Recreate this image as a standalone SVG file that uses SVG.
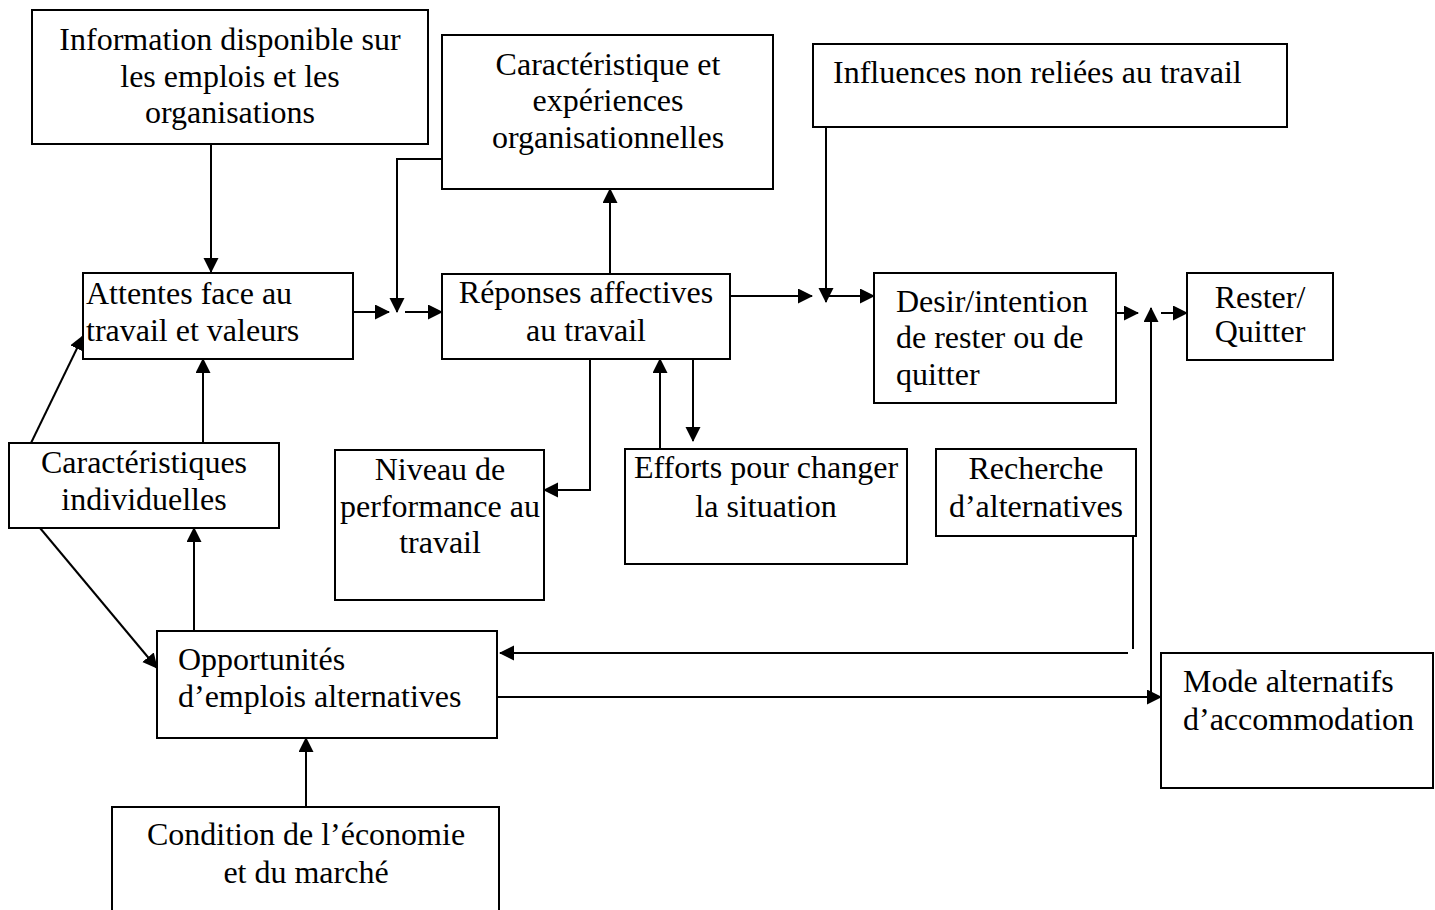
<svg xmlns="http://www.w3.org/2000/svg" width="1435" height="910" viewBox="0 0 1435 910">
<style>
.box{fill:#fff;stroke:#000;stroke-width:2}
.t{font-family:"Liberation Serif","Times New Roman",serif;font-size:32px;fill:#000}
.c{text-anchor:middle}
.ln{fill:none;stroke:#000;stroke-width:2}
</style>
<defs>
<marker id="ah" markerUnits="userSpaceOnUse" markerWidth="18" markerHeight="18" refX="14" refY="7.5" orient="auto">
<path d="M0,0 L15,7.5 L0,15 Z" fill="#000"/>
</marker>
</defs>
<rect width="1435" height="910" fill="#fff"/>
<g id="connectors">
<path class="ln" d="M211 144 V272" marker-end="url(#ah)"/>
<path class="ln" d="M353 312 H389" marker-end="url(#ah)"/>
<path class="ln" d="M442 159 H397 V312" marker-end="url(#ah)"/>
<path class="ln" d="M405 312 H442" marker-end="url(#ah)"/>
<path class="ln" d="M610 274 V189" marker-end="url(#ah)"/>
<path class="ln" d="M730 296 H812" marker-end="url(#ah)"/>
<path class="ln" d="M826 127 V302" marker-end="url(#ah)"/>
<path class="ln" d="M826 296 H874" marker-end="url(#ah)"/>
<path class="ln" d="M1116 313 H1138" marker-end="url(#ah)"/>
<path class="ln" d="M1151 697 V308" marker-end="url(#ah)"/>
<path class="ln" d="M1161 313 H1187" marker-end="url(#ah)"/>
<path class="ln" d="M590 359 V490 H544" marker-end="url(#ah)"/>
<path class="ln" d="M660 449 V359" marker-end="url(#ah)"/>
<path class="ln" d="M693 359 V441" marker-end="url(#ah)"/>
<path class="ln" d="M1133 536 V649"/>
<path class="ln" d="M1128 653 H500" marker-end="url(#ah)"/>
<path class="ln" d="M480 697 H1161" marker-end="url(#ah)"/>
<path class="ln" d="M31 443 L83 336" marker-end="url(#ah)"/>
<path class="ln" d="M203 443 V359" marker-end="url(#ah)"/>
<path class="ln" d="M40 528 L157 668" marker-end="url(#ah)"/>
<path class="ln" d="M194 631 V528" marker-end="url(#ah)"/>
<path class="ln" d="M306 807 V738" marker-end="url(#ah)"/>
</g>
<g id="info">
<rect class="box" x="32" y="10" width="396" height="134"/>
<text class="t c" x="230" y="50">Information disponible sur</text>
<text class="t c" x="230" y="87">les emplois et les</text>
<text class="t c" x="230" y="123">organisations</text>
</g>
<g id="caract-org">
<rect class="box" x="442" y="35" width="331" height="154"/>
<text class="t c" x="608" y="75">Caractéristique et</text>
<text class="t c" x="608" y="111">expériences</text>
<text class="t c" x="608" y="148">organisationnelles</text>
</g>
<g id="influences">
<rect class="box" x="813" y="44" width="474" height="83"/>
<text class="t" x="833" y="83">Influences non reliées au travail</text>
</g>
<g id="attentes">
<rect class="box" x="83" y="273" width="270" height="86"/>
<text class="t" x="86" y="304">Attentes face au</text>
<text class="t" x="86" y="341">travail et valeurs</text>
</g>
<g id="reponses">
<rect class="box" x="442" y="274" width="288" height="85"/>
<text class="t c" x="586" y="303">Réponses affectives</text>
<text class="t c" x="586" y="341">au travail</text>
</g>
<g id="desir">
<rect class="box" x="874" y="273" width="242" height="130"/>
<text class="t" x="896" y="312">Desir/intention</text>
<text class="t" x="896" y="348">de rester ou de</text>
<text class="t" x="896" y="385">quitter</text>
</g>
<g id="rester">
<rect class="box" x="1187" y="273" width="146" height="87"/>
<text class="t c" x="1260" y="308">Rester/</text>
<text class="t c" x="1260" y="342">Quitter</text>
</g>
<g id="caract-ind">
<rect class="box" x="9" y="443" width="270" height="85"/>
<text class="t c" x="144" y="473">Caractéristiques</text>
<text class="t c" x="144" y="510">individuelles</text>
</g>
<g id="niveau">
<rect class="box" x="335" y="450" width="209" height="150"/>
<text class="t c" x="440" y="480">Niveau de</text>
<text class="t c" x="440" y="517">performance au</text>
<text class="t c" x="440" y="553">travail</text>
</g>
<g id="efforts">
<rect class="box" x="625" y="449" width="282" height="115"/>
<text class="t c" x="766" y="478">Efforts pour changer</text>
<text class="t c" x="766" y="517">la situation</text>
</g>
<g id="recherche">
<rect class="box" x="936" y="449" width="200" height="87"/>
<text class="t c" x="1036" y="479">Recherche</text>
<text class="t c" x="1036" y="517">d’alternatives</text>
</g>
<g id="opportunites">
<rect class="box" x="157" y="631" width="340" height="107"/>
<text class="t" x="178" y="670">Opportunités</text>
<text class="t" x="178" y="707">d’emplois alternatives</text>
</g>
<g id="mode">
<rect class="box" x="1161" y="653" width="272" height="135"/>
<text class="t" x="1183" y="692">Mode alternatifs</text>
<text class="t" x="1183" y="730">d’accommodation</text>
</g>
<g id="condition">
<path class="box" d="M112 911 V807 H499 V911"/>
<text class="t c" x="306" y="845">Condition de l’économie</text>
<text class="t c" x="306" y="883">et du marché</text>
</g>
</svg>
